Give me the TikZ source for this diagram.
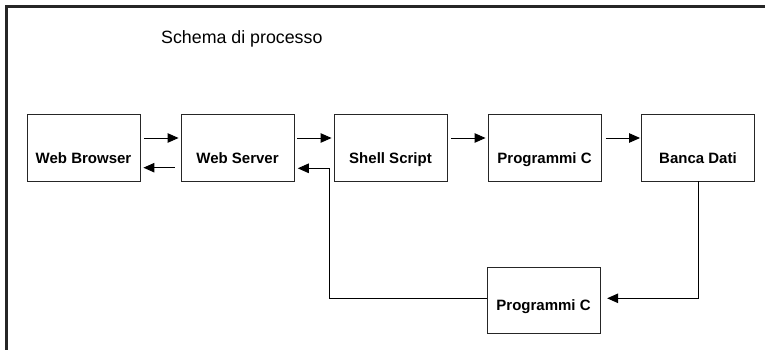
\documentclass[tikz,border=0pt]{standalone}
\usepackage{fontspec}
\setmainfont{Liberation Sans}
\usetikzlibrary{arrows.meta,calc}

\tikzset{
  box/.style={draw=black!85, line width=0.9pt, rectangle, inner sep=0pt,
              minimum width=113pt, minimum height=67pt},
  lbl/.style={anchor=base, inner sep=0pt, font=\bfseries\fontsize{15}{18}\selectfont},
  arr/.style={draw=black, line width=1pt, -{Triangle[length=11pt,width=9.5pt]}},
  frame/.style={draw=black!85, line width=3pt}
}

\begin{document}
\begin{tikzpicture}[x=1pt,y=-1pt]
\useasboundingbox (0,0) rectangle (765,350);

% open frame: top and left edges only
\draw[frame] (765,7) -- (6,7) -- (6,350);

% title
\node[anchor=base west, inner sep=0pt, font=\fontsize{17.8}{20}\selectfont]
  (title) at (161,43.3) {Schema di processo};

% process boxes
\node[box] (wb)  at (83.5,147.5) {};
\node[box] (ws)  at (237.5,147.5) {};
\node[box] (ss)  at (390.5,147.5) {};
\node[box] (pc)  at (544.5,147.5) {};
\node[box] (bd)  at (698,147.5) {};
\node[box, minimum height=66pt] (pc2) at (543.5,300) {};

% labels, set below the box centres
\node[lbl] (wbt)  at ($(wb.center)+(0,16)$)  {Web Browser};
\node[lbl] (wst)  at ($(ws.center)+(0,16)$)  {Web Server};
\node[lbl] (sst)  at ($(ss.center)+(0,16)$)  {Shell Script};
\node[lbl] (pct)  at ($(pc.center)+(0,16)$)  {Programmi C};
\node[lbl] (bdt)  at ($(bd.center)+(0,16)$)  {Banca Dati};
\node[lbl] (pc2t) at ($(pc2.center)+(0,10)$) {Programmi C};

% forward chain
\draw[arr, shorten <=3.5pt, shorten >=2pt] ($(wb.east)+(0,-9.5)$) -- ($(ws.west)+(0,-9.5)$);
\draw[arr, shorten <=3pt, shorten >=2pt]   ($(ws.east)+(0,-9.5)$) -- ($(ss.west)+(0,-9.5)$);
\draw[arr, shorten <=3.5pt, shorten >=2pt] ($(ss.east)+(0,-9.5)$) -- ($(pc.west)+(0,-9.5)$);
\draw[arr, shorten <=4.5pt, shorten >=1pt] ($(pc.east)+(0,-9.5)$) -- ($(bd.west)+(0,-9.5)$);

% reply to the browser
\draw[arr, shorten <=6pt, shorten >=3pt] ($(ws.west)+(0,20.2)$) -- ($(wb.east)+(0,20.2)$);

% feedback loop through the second program
\draw[arr, shorten >=6.7pt] (bd.south) |- ($(pc2.east)+(0,-1.7)$);
\coordinate (fb) at (329.3,168.3);
\draw[arr, shorten >=3.3pt] ($(pc2.west)+(0,-1.7)$) -| (fb) -- (fb -| ws.east);
\end{tikzpicture}
\end{document}
